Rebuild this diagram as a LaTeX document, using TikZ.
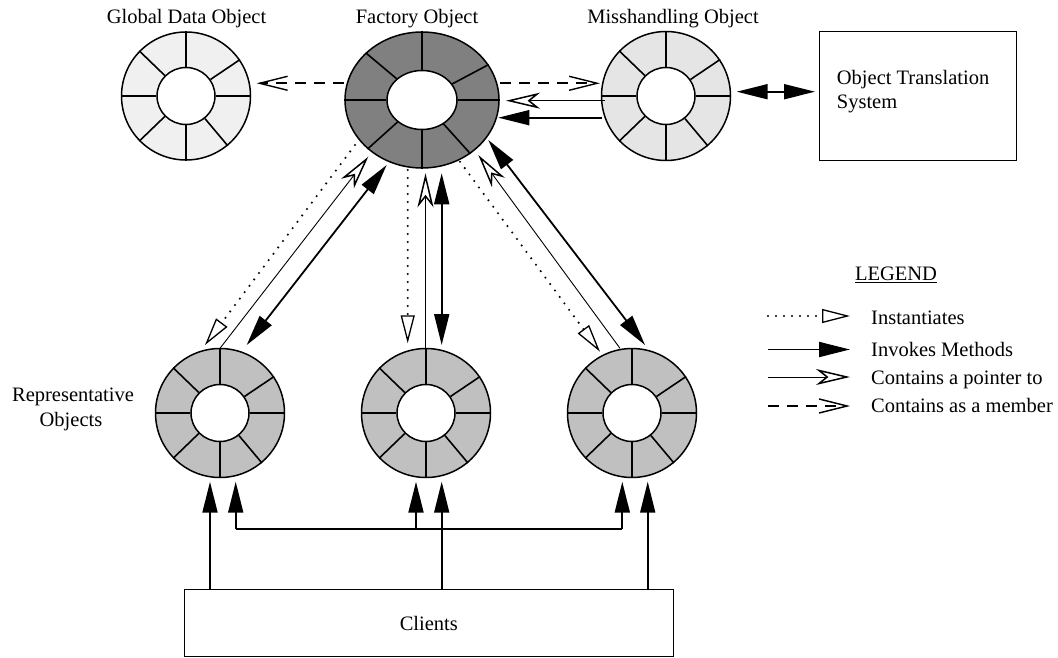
\documentclass[tikz,border=0pt]{standalone}
\usepackage{fontspec}
\setmainfont{Liberation Serif}
\usetikzlibrary{arrows.meta,shapes.geometric}

\definecolor{globfill}{RGB}{240,240,240}
\definecolor{misfill}{RGB}{229,229,229}
\definecolor{facfill}{RGB}{128,128,128}
\definecolor{repfill}{RGB}{192,192,192}

\tikzset{
  ring/.style={ellipse, draw, line width=1.5pt, inner sep=0pt},
  hole/.style={ellipse, draw, fill=white, line width=1.5pt, inner sep=0pt},
  spoke/.style={line width=1.6pt},
  txt/.style={font=\fontsize{20.5}{25}\selectfont, inner sep=0pt},
  box/.style={draw, line width=1pt, inner sep=0pt},
  invoke/.style={line width=1.8pt, -{Triangle[length=31pt,width=15pt]}},
  invokeboth/.style={line width=1.8pt,
    {Triangle[length=31pt,width=15pt]}-{Triangle[length=31pt,width=15pt]}},
  pointer/.style={line width=0.9pt,
    -{Stealth[length=34pt,width=16pt,inset=10pt,fill=white,line width=1.5pt]}},
  instance/.style={line width=2.3pt, line cap=round, dash pattern=on 0pt off 8pt,
    -{Triangle[length=28pt,width=14pt,fill=white,line width=1.3pt]}},
  member/.style={line width=1.6pt, dash pattern=on 11pt off 8pt,
    -{Straight Barb[length=28pt,width=14pt,line width=1.4pt]}}
}

% object ring: name, x, y, width, height, hole width, hole height, fill, spoke angles
\newcommand{\objring}[9]{%
  \node[ring, fill=#8, minimum width=#4pt, minimum height=#5pt] (#1) at (#2,#3) {};
  \node[hole, minimum width=#6pt, minimum height=#7pt] (#1-in) at (#2,#3) {};
  \foreach \ang in {#9} \draw[spoke] (#1-in.\ang) -- (#1.\ang);
}

\begin{document}
\begin{tikzpicture}[x=1pt,y=-1pt]
\useasboundingbox (0,0) rectangle (1058,658);

% objects
\objring{glob}{186}{96}{129}{128}{58}{57}{globfill}{0,34,90,136,180,224,270,310}
\objring{fac}{422}{100}{154}{136}{70}{59}{facfill}{0,28,90,140,180,222,270,312}
\objring{mis}{666}{96}{129}{129}{58}{57}{misfill}{0,34,90,136,180,224,270,310}
\objring{repA}{220}{413}{129}{129}{58}{57}{repfill}{0,34,90,136,180,224,270,310}
\objring{repB}{426}{413}{129}{129}{58}{57}{repfill}{0,34,90,136,180,224,270,310}
\objring{repC}{632}{413}{129}{129}{58}{57}{repfill}{0,34,90,136,180,224,270,310}

% labels
\node[txt, anchor=base] (globlab) at (186.5,24) {Global Data Object};
\node[txt, anchor=base] (faclab) at (417,24) {Factory Object};
\node[txt, anchor=base] (mislab) at (673,24) {Misshandling Object};
\node[txt, anchor=base] (replab1) at (73,401) {Representative};
\node[txt, anchor=base] (replab2) at (71,426) {Objects};

% boxes
\node[box, minimum width=197.4pt, minimum height=129pt] (ots) at (918,96.5) {};
\node[txt, anchor=base west] (otslab1) at (836.7,84.3) {Object Translation};
\node[txt, anchor=base west] (otslab2) at (836.7,108.3) {System};
\node[box, minimum width=489pt, minimum height=67.4pt, txt] (clients) at (428.8,623) {Clients};

% factory and its neighbours
\coordinate (fgA) at (344,83.3);   \coordinate (fgB) at (256.7,83.3);
\coordinate (fmA) at (500,83.3);   \coordinate (fmB) at (600,83.3);
\coordinate (mfA) at (605,100.7);  \coordinate (mfB) at (506,100.7);
\coordinate (mfC) at (601.5,117.7);\coordinate (mfD) at (498.3,117.7);
\coordinate (moA) at (736.7,91.7); \coordinate (moB) at (815,91.7);
\draw[member] (fgA) -- (fgB);
\draw[member] (fmA) -- (fmB);
\draw[pointer] (mfA) -- (mfB);
\draw[invoke] (mfC) -- (mfD);
\draw[invokeboth] (moA) -- (moB);

% factory <-> left representative
\coordinate (laA) at (355,145);    \coordinate (laB) at (205,345);
\coordinate (lbA) at (220,348.3);  \coordinate (lbB) at (368.3,156.7);
\coordinate (lcA) at (246.7,345);  \coordinate (lcB) at (386.7,165);
\draw[instance] (laA) -- (laB);
\draw[pointer] (lbA) -- (lbB);
\draw[invokeboth] (lcA) -- (lcB);

% factory <-> middle representative
\coordinate (maA) at (407.7,170);  \coordinate (maB) at (407.7,343.3);
\coordinate (mbA) at (425.5,348);  \coordinate (mbB) at (425.5,173.3);
\coordinate (mcA) at (441.7,173.3);\coordinate (mcB) at (441.7,345);
\draw[instance] (maA) -- (maB);
\draw[pointer] (mbA) -- (mbB);
\draw[invokeboth] (mcA) -- (mcB);

% factory <-> right representative
\coordinate (raA) at (460,161.7);  \coordinate (raB) at (600,351.7);
\coordinate (rbA) at (620,348.3);  \coordinate (rbB) at (478.3,155);
\coordinate (rcA) at (488.3,140);  \coordinate (rcB) at (645,345);
\draw[instance] (raA) -- (raB);
\draw[pointer] (rbA) -- (rbB);
\draw[invokeboth] (rcA) -- (rcB);

% clients -> representatives
\coordinate (cA) at (210,589.3);   \coordinate (cAt) at (210,481.7);
\coordinate (cB) at (441.7,589.3); \coordinate (cBt) at (441.7,481.7);
\coordinate (cC) at (647.7,589.3); \coordinate (cCt) at (647.7,481.7);
\draw[invoke] (cA) -- (cAt);
\draw[invoke] (cB) -- (cBt);
\draw[invoke] (cC) -- (cCt);

% shared link between the representatives
\coordinate (bA) at (235.7,529.3); \coordinate (bAt) at (235.7,481.7);
\coordinate (bB) at (416,529.3);   \coordinate (bBt) at (416,481.7);
\coordinate (bC) at (622.3,529.3); \coordinate (bCt) at (622.3,481.7);
\draw[line width=1.8pt] (bA) -- (bC);
\draw[invoke] (bA) -- (bAt);
\draw[invoke] (bB) -- (bBt);
\draw[invoke] (bC) -- (bCt);

% legend
\node[txt, anchor=base] (leghead) at (896,280.7) {\underline{LEGEND}};
\coordinate (k1a) at (768,316);   \coordinate (k1b) at (850,316);
\coordinate (k2a) at (768,349.5); \coordinate (k2b) at (850,349.5);
\coordinate (k3a) at (768,377);   \coordinate (k3b) at (850,377);
\coordinate (k4a) at (768,406);   \coordinate (k4b) at (850,406);
\draw[instance] (k1a) -- (k1b);
\draw[invoke] (k2a) -- (k2b);
\draw[pointer] (k3a) -- (k3b);
\draw[member] (k4a) -- (k4b);
\node[txt, anchor=base west] (k1t) at (871,324.3) {Instantiates};
\node[txt, anchor=base west] (k2t) at (871,356.7) {Invokes Methods};
\node[txt, anchor=base west] (k3t) at (871,384.3) {Contains a pointer to};
\node[txt, anchor=base west] (k4t) at (871,412.3) {Contains as a member};
\end{tikzpicture}
\end{document}
